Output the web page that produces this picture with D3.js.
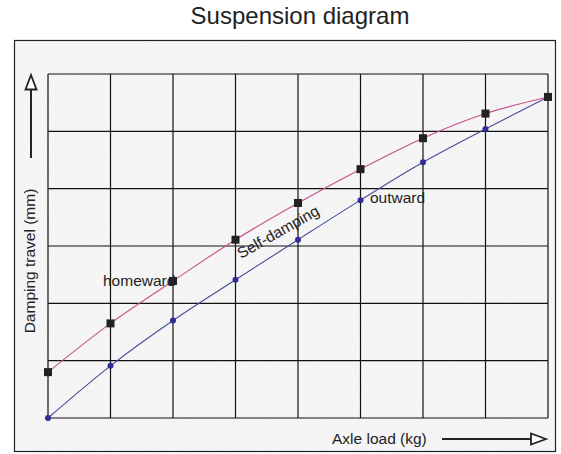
<!DOCTYPE html>
<html><head><meta charset="utf-8">
<script src="https://d3js.org/d3.v7.min.js"></script>
<style>body{margin:0;background:#fff}svg{display:block}</style>
</head><body><div id="chart"></div>
<script>
// Data (grid units: x = load divisions, y = travel divisions)
const loadSteps = [0, 1, 2, 3, 4, 5, 6, 7, 8];
const outward   = [0, 0.91, 1.70, 2.41, 3.11, 3.80, 4.46, 5.04, 5.60];
const homeward  = [0.80, 1.65, 2.39, 3.11, 3.75, 4.34, 4.88, 5.31, 5.60];
const xGrid = [0, 1, 2, 3, 4, 5, 6, 7, 8];
const yGrid = [0, 1, 2, 3, 4, 5, 6];

const W = 561, H = 454;
const svg = d3.select("#chart").append("svg").attr("width", W).attr("height", H);
const font = "Liberation Sans, Arial, sans-serif";

const defs = svg.append("defs");
const f = defs.append("filter").attr("id", "paper").attr("x", 0).attr("y", 0).attr("width", 1).attr("height", 1);
f.append("feTurbulence").attr("type", "fractalNoise").attr("baseFrequency", 0.8).attr("numOctaves", 2).attr("seed", 3).attr("result", "n");
f.append("feColorMatrix").attr("in", "n").attr("type", "matrix")
  .attr("values", "0 0 0 0 0.8  0 0 0 0 0.8  0 0 0 0 0.8  0.9 0 0 0 -0.38").attr("result", "g");
f.append("feComposite").attr("in", "g").attr("in2", "SourceGraphic").attr("operator", "in").attr("result", "g2");
f.append("feMerge").selectAll("feMergeNode").data(["SourceGraphic", "g2"]).join("feMergeNode").attr("in", d => d);

// Title
svg.append("text").attr("x", 300).attr("y", 24).attr("text-anchor", "middle")
  .attr("font-family", font).attr("font-size", 24).attr("fill", "#222").text("Suspension diagram");

// Frame
svg.append("rect").attr("x", 14.5).attr("y", 40.5).attr("width", 541).attr("height", 411)
  .attr("fill", "#f6f6f6").attr("filter", "url(#paper)");
svg.append("rect").attr("x", 14.5).attr("y", 40.5).attr("width", 541).attr("height", 411)
  .attr("fill", "none").attr("stroke", "#222").attr("stroke-width", 1.2);

const x = d3.scaleLinear().domain([0, 8]).range([48, 548]);
const y = d3.scaleLinear().domain([0, 6]).range([418, 74]);

const g = svg.append("g");
// Grid
g.selectAll("line.v").data(xGrid).join("line")
  .attr("x1", d => x(d)).attr("x2", d => x(d)).attr("y1", y(0)).attr("y2", y(6))
  .attr("stroke", "#111").attr("stroke-width", 1.2);
g.selectAll("line.h").data(yGrid).join("line")
  .attr("y1", d => y(d)).attr("y2", d => y(d)).attr("x1", x(0)).attr("x2", x(8))
  .attr("stroke", "#111").attr("stroke-width", 1.2);

const line = d3.line().x((d, i) => x(loadSteps[i])).y(d => y(d)).curve(d3.curveMonotoneX);

g.append("path").attr("d", line(homeward)).attr("fill", "none").attr("stroke", "#c8508c").attr("stroke-width", 1.1);
g.append("path").attr("d", line(outward)).attr("fill", "none").attr("stroke", "#4a4a9a").attr("stroke-width", 1.1);

g.selectAll("circle.o").data(outward).join("circle")
  .attr("cx", (d, i) => x(loadSteps[i])).attr("cy", d => y(d)).attr("r", 3).attr("fill", "#2e2e96");
g.selectAll("rect.h").data(homeward).join("rect")
  .attr("x", (d, i) => x(loadSteps[i]) - 4).attr("y", d => y(d) - 4).attr("width", 8).attr("height", 8).attr("fill", "#222");

// Labels
const fs = 15.5;
svg.append("text").attr("x", 103).attr("y", 286).attr("font-family", font).attr("font-size", fs).attr("fill", "#222").text("homeward");
svg.append("text").attr("x", 370).attr("y", 203).attr("font-family", font).attr("font-size", fs).attr("fill", "#222").text("outward");
svg.append("text").attr("transform", "translate(241,259) rotate(-29.5)").attr("font-family", font).attr("font-size", fs).attr("fill", "#222").text("Self-damping");

// Axis titles
svg.append("text").attr("transform", "translate(35,261) rotate(-90)").attr("text-anchor", "middle")
  .attr("font-family", font).attr("font-size", fs).attr("fill", "#222").text("Damping travel (mm)");
svg.append("text").attr("x", 332).attr("y", 444).attr("font-family", font).attr("font-size", fs).attr("fill", "#222").text("Axle load (kg)");

// Arrows
svg.append("line").attr("x1", 31).attr("x2", 31).attr("y1", 158).attr("y2", 89).attr("stroke", "#222").attr("stroke-width", 2);
svg.append("path").attr("d", "M31,75 L25.5,89.5 L36.5,89.5 Z").attr("fill", "#fff").attr("stroke", "#222").attr("stroke-width", 1.8);
svg.append("line").attr("x1", 442).attr("x2", 531).attr("y1", 439).attr("y2", 439).attr("stroke", "#222").attr("stroke-width", 2);
svg.append("path").attr("d", "M546,439 L531,433.5 L531,444.5 Z").attr("fill", "#fff").attr("stroke", "#222").attr("stroke-width", 1.8);
</script></body></html>
